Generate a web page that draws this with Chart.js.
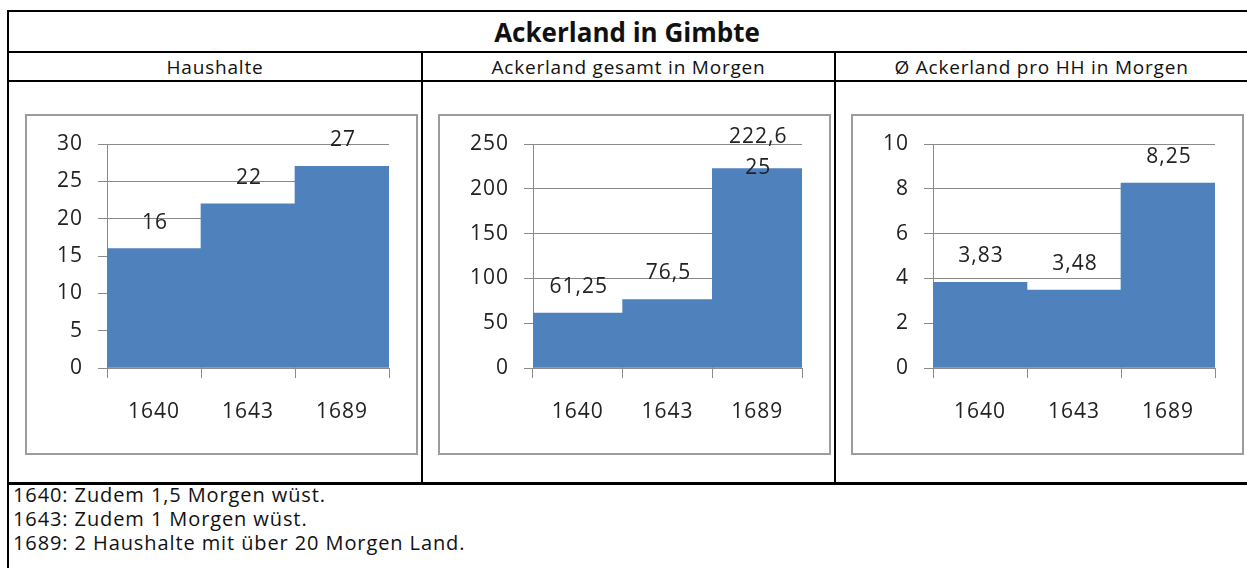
<!DOCTYPE html>
<html lang="de">
<head>
  <meta charset="UTF-8">
  <title>Ackerland in Gimbte</title>
  <script src="https://cdn.jsdelivr.net/npm/chart.js"></script>
  <style>
    body {
      margin: 0;
      width: 1247px;
      height: 568px;
      overflow: hidden;
      background: #fff;
      font-family: 'Open Sans', sans-serif;
      color: #111;
      position: relative;
    }
    .line { position: absolute; background: #000; }
    .title {
      position: absolute;
      left: 7px; width: 1240px; top: 12px; height: 39px;
      line-height: 41px;
      text-align: center;
      font-weight: bold;
      font-size: 26px;
    }
    .head {
      position: absolute;
      top: 53px; height: 28px; line-height: 28px;
      text-align: center;
      font-size: 19px;
      letter-spacing: 0.8px;
    }
    .box {
      position: absolute;
      top: 114px;
      width: 393px; height: 341px;
      border: 2px solid #9c9c9c;
      box-sizing: border-box;
    }
    .box canvas { display: block; }
    .note {
      position: absolute;
      left: 13px;
      font-size: 20px;
      letter-spacing: 0.9px;
      line-height: 24px;
    }
  </style>
</head>
<body>
  <div class="line" style="left:7px;top:10px;width:1240px;height:2px"></div>
  <div class="line" style="left:7px;top:51px;width:1240px;height:2px"></div>
  <div class="line" style="left:7px;top:80px;width:1240px;height:2px"></div>
  <div class="line" style="left:7px;top:482px;width:1240px;height:3px"></div>
  <div class="line" style="left:7px;top:10px;width:2px;height:558px"></div>
  <div class="line" style="left:421px;top:51px;width:2px;height:433px"></div>
  <div class="line" style="left:834px;top:51px;width:2px;height:433px"></div>

  <div class="title">Ackerland in Gimbte</div>
  <div class="head" style="left:9px;width:412px">Haushalte</div>
  <div class="head" style="left:423px;width:411px">Ackerland gesamt in Morgen</div>
  <div class="head" style="left:836px;width:411px">Ø Ackerland pro HH in Morgen</div>

  <div class="box" style="left:25px"><canvas id="c1"></canvas></div>
  <div class="box" style="left:438px"><canvas id="c2"></canvas></div>
  <div class="box" style="left:851px"><canvas id="c3"></canvas></div>

  <div class="note" style="top:483px">
    1640: Zudem 1,5 Morgen wüst.<br>
    1643: Zudem 1 Morgen wüst.<br>
    1689: 2 Haushalte mit über 20 Morgen Land.
  </div>

  <script>
    // Daten
    const years = ['1640', '1643', '1689'];
    const haushalte = [16, 22, 27];
    const ackerland = [61.25, 76.5, 222.625];
    const proHH = [3.83, 3.48, 8.25];

    const yMax = [30, 250, 10];
    const yStep = [5, 50, 2];

    const barColor = '#4F81BD';
    const gridColor = '#8a8a8a';
    const font = { family: "'Open Sans', sans-serif", size: 21 };

    function fmt(v) {
      return v.toLocaleString('de-DE');
    }

    // Wertbeschriftung über den Balken (lange Werte umbrechen wie in Excel)
    const valueLabels = {
      id: 'valueLabels',
      beforeDraw(chart) {
        chart.ctx.letterSpacing = '1px';
      },
      afterDatasetsDraw(chart) {
        const ctx = chart.ctx;
        const meta = chart.getDatasetMeta(0);
        const values = chart.data.datasets[0].data;
        ctx.save();
        ctx.font = font.size + 'px ' + font.family;
        ctx.fillStyle = '#222';
        ctx.textAlign = 'center';
        ctx.textBaseline = 'middle';
        meta.data.forEach((bar, i) => {
          const txt = fmt(values[i]);
          const lines = [];
          for (let k = 0; k < txt.length; k += 5) lines.push(txt.slice(k, k + 5));
          const lineH = 31;
          let first = bar.y - 26 - (lines.length - 1) * lineH;
          const minY = chart.chartArea.top - 7;
          if (first < minY) first = minY;
          lines.forEach((l, j) => ctx.fillText(l, bar.x + 1, first + j * lineH));
        });
        ctx.restore();
      }
    };

    function makeChart(id, data, idx, plotLeft) {
      return new Chart(document.getElementById(id), {
        type: 'bar',
        data: {
          labels: years,
          datasets: [{
            data: data,
            backgroundColor: barColor,
            borderWidth: 0,
            barPercentage: 1,
            categoryPercentage: 1
          }]
        },
        options: {
          responsive: false,
          animation: false,
          layout: { padding: { top: 28, right: 27, left: 0, bottom: 0 } },
          plugins: { legend: { display: false }, tooltip: { enabled: false } },
          scales: {
            x: {
              grid: { drawOnChartArea: false, color: gridColor, tickLength: 10, offset: true },
              border: { color: gridColor, width: 1 },
              ticks: { font: font, color: '#222', padding: 21 },
              afterFit(s) { s.height = 85; }
            },
            y: {
              min: 0,
              max: yMax[idx],
              ticks: { stepSize: yStep[idx], font: font, color: '#222', padding: 15 },
              grid: { color: gridColor, tickLength: 9 },
              border: { color: gridColor, width: 1 },
              afterFit(s) { s.width = plotLeft; }
            }
          }
        },
        plugins: [valueLabels]
      });
    }

    ['c1', 'c2', 'c3'].forEach(id => {
      const c = document.getElementById(id);
      c.width = 389;
      c.height = 337;
    });

    makeChart('c1', haushalte, 0, 80);
    makeChart('c2', ackerland, 1, 93);
    makeChart('c3', proHH, 2, 80);
  </script>
</body>
</html>
